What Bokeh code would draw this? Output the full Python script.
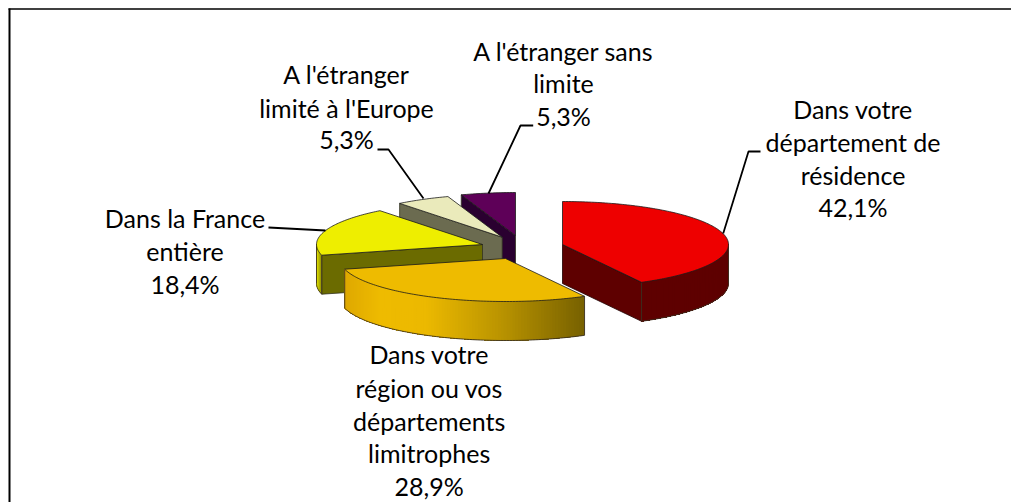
import math
from bokeh.plotting import figure
from bokeh.core.properties import value
from bokeh.embed import file_html
from bokeh.resources import INLINE

# ---- data ----
categories = [
    ["Dans votre", "département de", "résidence"],
    ["Dans votre", "région ou vos", "départements", "limitrophes"],
    ["Dans la France", "entière"],
    ["A l'étranger", "limité à l'Europe"],
    ["A l'étranger sans", "limite"],
]
percents = [42.1, 28.9, 18.4, 5.3, 5.3]
percent_labels = ["42,1%", "28,9%", "18,4%", "5,3%", "5,3%"]

# ---- styling / layout ----
top_colors = ["#ee0000", "#eebb00", "#eeee00", "#eaeabb", "#5e0058"]
wall_colors = ["#5e0000", "#8a7000", "#6b6b00", "#6b6b50", "#2a0030"]
apexes = [(562, 244), (505, 258), (482, 244), (501.7, 236.7), (515, 235)]
RX, RY, DEPTH = 166, 43, 39
label_x = [852.5, 428.7, 184.5, 346, 563]
label_base = [
    [118, 150.5, 183.5, 216],
    [363, 396.7, 430, 462, 495],
    [227, 260, 293],
    [83, 117, 148],
    [60, 92, 125],
]
leaders = [
    [(722.7, 233), (748, 151), (760, 151)],
    None,
    [(325, 230), (268, 227)],
    [(423, 198), (388, 149), (377, 149)],
    [(488, 193), (520, 125), (532.7, 125)],
]
FONT = "Lato"
FONT_SIZE = "25px"
TEXT_SHIFT = -9.5

p = figure(width=1011, height=502, x_range=(0, 1011), y_range=(502, 0),
           output_backend="svg", toolbar_location=None, min_border=0)
p.axis.visible = False
p.grid.visible = False
p.outline_line_color = None
p.background_fill_color = "white"
p.border_fill_color = "white"


def pt(apex, th, dz=0):
    return apex[0] + RX * math.sin(th), apex[1] - RY * math.cos(th) + dz


def lerp(c1, c2, t):
    return "#%02x%02x%02x" % tuple(round(a + (b - a) * t) for a, b in zip(c1, c2))


def orange_color(x):
    stops = [(344, (222, 168, 0)), (380, (238, 187, 0)), (425, (236, 185, 0)),
             (500, (186, 148, 0)), (585, (118, 96, 0))]
    for (x0, c0), (x1, c1) in zip(stops, stops[1:]):
        if x <= x1:
            return lerp(c0, c1, max(0, (x - x0) / (x1 - x0)))
    return "#766000"


def yellow_color(x):
    return lerp((230, 230, 0), (120, 120, 0), min(1, max(0, (x - 316) / 6)))


total = sum(percents)
angles = [0.0]
for v in percents:
    angles.append(angles[-1] + v / total * 2 * math.pi)

for i in [4, 3, 2, 0, 1]:
    a0, a1 = angles[i], angles[i + 1]
    apex = apexes[i]
    steps = max(6, int(math.degrees(a1 - a0)))
    ths = [a0 + (a1 - a0) * k / steps for k in range(steps + 1)]
    arc = [pt(apex, t) for t in ths]

    # radial walls that face the viewer
    if i == 0:
        e = pt(apex, a1)
        p.patch([apex[0], e[0], e[0], apex[0]], [apex[1], e[1], e[1] + DEPTH, apex[1] + DEPTH],
                fill_color=wall_colors[i], line_color="#200000", line_width=0.8)
    if i >= 2:
        e = pt(apex, a0)
        p.patch([apex[0], e[0], e[0], apex[0]], [apex[1], e[1], e[1] + DEPTH, apex[1] + DEPTH],
                fill_color=wall_colors[i], line_color="#333322", line_width=0.8)

    # outer wall, front half of the ellipse only: painted back to front so no seams show
    vis = [t for t in ths if math.cos(t) <= 0.02]
    if len(vis) > 1:
        for k in range(len(vis) - 1):
            rest = vis[k:]
            tops = [pt(apex, t) for t in rest]
            lows = [pt(apex, t, DEPTH) for t in reversed(rest)]
            xm = (tops[0][0] + tops[1][0]) / 2
            if i == 1:
                c = orange_color(xm)
            elif i == 2:
                c = yellow_color(xm)
            else:
                c = wall_colors[i]
            p.patch([q[0] for q in tops + lows], [q[1] for q in tops + lows],
                    fill_color=c, line_color=None)
        low = [pt(apex, t, DEPTH) for t in vis]
        p.line([q[0] for q in low], [q[1] for q in low], line_color="#3a3020", line_width=0.9)
        for t in (vis[0], vis[-1]):
            q = pt(apex, t)
            p.line([q[0], q[0]], [q[1], q[1] + DEPTH], line_color="#3a3020", line_width=0.9)

    # top face
    xs = [apex[0]] + [q[0] for q in arc]
    ys = [apex[1]] + [q[1] for q in arc]
    p.patch(xs, ys, fill_color=top_colors[i], line_color="#1a1a1a", line_width=0.8)

# frame
p.line([9, 9], [8, 502], line_color="black", line_width=2)
p.line([8, 1011], [8.5, 8.5], line_color="black", line_width=1.3)

# leader lines
for seg in leaders:
    if seg:
        p.line([q[0] for q in seg], [q[1] for q in seg], line_color="black", line_width=1.8)

# labels
for i, lines in enumerate(categories):
    all_lines = lines + [percent_labels[i]]
    for line, base in zip(all_lines, label_base[i]):
        p.text([label_x[i]], [base], text=[line], text_align="center", text_baseline="alphabetic",
               y_offset=TEXT_SHIFT,
               text_font=value(FONT), text_font_size=FONT_SIZE, text_color="black")

open("out.html", "w").write(file_html(p, INLINE))
